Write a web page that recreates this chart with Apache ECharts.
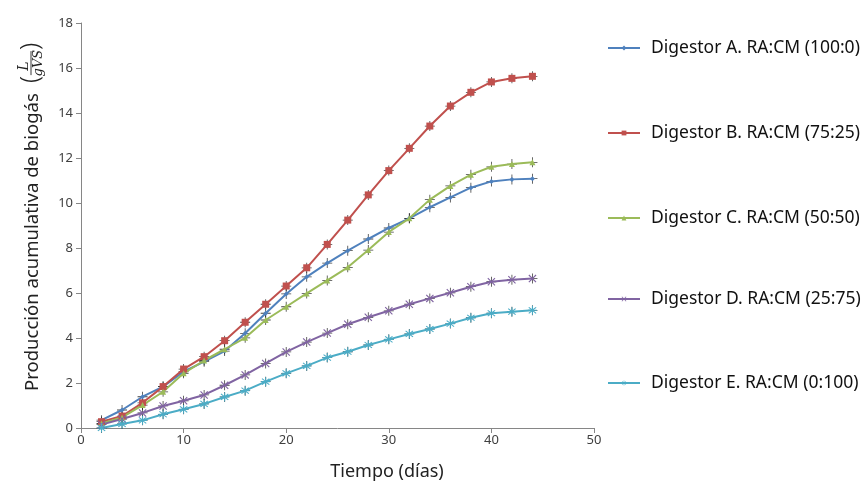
<!DOCTYPE html>
<html><head><meta charset="utf-8">
<script src="https://cdn.jsdelivr.net/npm/echarts@6/dist/echarts.min.js"></script>
<style>html,body{margin:0;padding:0;background:#fff}#c{width:862px;height:485px}</style>
</head><body><div id="c"></div>
<script>
const days = [2,4,6,8,10,12,14,16,18,20,22,24,26,28,30,32,34,36,38,40,42,44];
const seriesNames = ['Digestor A. RA:CM (100:0)','Digestor B. RA:CM (75:25)','Digestor C. RA:CM (50:50)','Digestor D. RA:CM (25:75)','Digestor E. RA:CM (0:100)'];
const digA = [0.35,0.8,1.39,1.84,2.5,2.95,3.42,4.21,5.1,5.96,6.72,7.33,7.88,8.4,8.89,9.32,9.81,10.25,10.68,10.96,11.05,11.08];
const digB = [0.28,0.53,1.12,1.84,2.62,3.17,3.88,4.7,5.5,6.31,7.12,8.16,9.24,10.36,11.44,12.43,13.42,14.31,14.92,15.38,15.54,15.63];
const digC = [0.2,0.47,1.02,1.61,2.43,3.0,3.5,4.01,4.8,5.39,5.98,6.56,7.14,7.91,8.71,9.32,10.15,10.76,11.26,11.61,11.73,11.81];
const digD = [0.15,0.4,0.67,0.98,1.21,1.47,1.9,2.36,2.87,3.38,3.82,4.22,4.61,4.92,5.21,5.5,5.76,6.01,6.28,6.5,6.59,6.64];
const digE = [0.0,0.18,0.34,0.61,0.83,1.07,1.38,1.66,2.06,2.43,2.76,3.13,3.39,3.69,3.94,4.18,4.4,4.64,4.9,5.1,5.17,5.23];
const allData = [digA,digB,digC,digD,digE];
const colors = ['#4F81BD','#C0504D','#9BBB59','#8064A2','#4BACC6'];
const symbols = ['diamond','rect','triangle',
  'path://M1,0L5,4L9,0L10,1L6,5L10,9L9,10L5,6L1,10L0,9L4,5L0,1Z',
  'path://M4.4,0h1.2v3.6L8.7,1.3l0.8,0.8L6.4,4.4H10v1.2H6.4l3.1,2.3l-0.8,0.8L5.6,6.4V10H4.4V6.4L1.3,8.7l-0.8-0.8L3.6,5.6H0V4.4h3.6L0.5,2.1l0.8-0.8L4.4,3.6z'];
const symSizes = [5,7,6,8,9];
const plusPath = 'path://M4.6,0h0.8v10h-0.8z M0,4.6h10v0.8h-10z';
const legendCenters = [48,133,218,299,383];
const yTitle = 'Producción acumulativa de biogás';

const series = [];
allData.forEach((d,i)=>{
  series.push({type:'scatter', data: days.map((x,k)=>[x,d[k]]), symbol: plusPath, symbolSize: 10,
    itemStyle:{color:'#111'}, z:1, silent:true, legendHoverLink:false, tooltip:{show:false}});
});
allData.forEach((d,i)=>{
  series.push({name: seriesNames[i], type:'line', data: days.map((x,k)=>[x,d[k]]),
    symbol: symbols[i], symbolSize: symSizes[i], showSymbol:true,
    lineStyle:{color:colors[i], width:2}, itemStyle:{color:colors[i]}, z:3});
});

const legends = seriesNames.map((n,i)=>({
  data:[n], orient:'vertical', left:607, top:legendCenters[i]-10, padding:0,
  itemWidth:32, itemHeight:6, selectedMode:false,
  textStyle:{fontSize:17.5, lineHeight:20, color:'#111', fontFamily:'Noto Sans', padding:[0,0,0,6]}
}));

// measure title text to fit reference length (~300px)
const mctx = document.createElement('canvas').getContext('2d');
mctx.font = '17px "Noto Sans"';
const w17 = mctx.measureText(yTitle).width || 290;
const tSize = Math.max(15, Math.min(19, 17 * 298 / w17));
mctx.font = tSize + 'px "Noto Sans"';
const tW = mctx.measureText(yTitle).width || 298;
const p0 = tW + 10;

const chart = echarts.init(document.getElementById('c'), null, {renderer:'canvas'});
chart.setOption({
  animation:false,
  backgroundColor:'#fff',
  textStyle:{fontFamily:'Noto Sans'},
  grid:{left:81, right:268, top:23, bottom:57},
  legend: legends,
  xAxis:{type:'value', min:0, max:50, interval:10,
    axisLine:{show:true, lineStyle:{color:'#868686'}},
    axisTick:{show:true, length:5, lineStyle:{color:'#868686'}},
    splitLine:{show:false},
    axisLabel:{color:'#404040', fontSize:13, margin:6}},
  yAxis:{type:'value', min:0, max:18, interval:2,
    axisLine:{show:true, lineStyle:{color:'#868686'}},
    axisTick:{show:true, length:5, lineStyle:{color:'#868686'}},
    splitLine:{show:false},
    axisLabel:{color:'#404040', fontSize:13, margin:8}},
  graphic:[
    {type:'text', x:387, y:472, style:{text:'Tiempo (días)', fontSize:18, fontFamily:'Noto Sans', fill:'#222', align:'center', verticalAlign:'middle'}},
    {
    type:'group', x:33, y:391, rotation:Math.PI/2,
    children:[
      {type:'text', x:0, y:0, style:{text:yTitle, fontSize:tSize, fontFamily:'Noto Sans', fill:'#222', align:'left', verticalAlign:'middle'}},
      {type:'text', x:p0, y:-2, style:{text:'(', fontSize:26, fontWeight:300, fontFamily:'Noto Sans', fill:'#222', align:'left', verticalAlign:'middle'}},
      {type:'text', x:p0+17, y:-9, style:{text:'L', fontSize:14, fontStyle:'italic', fontFamily:'DejaVu Serif', fill:'#222', align:'center', verticalAlign:'middle'}},
      {type:'line', shape:{x1:p0+8, y1:-2, x2:p0+32, y2:-2}, style:{stroke:'#222', lineWidth:0.9}},
      {type:'text', x:p0+20, y:6, style:{text:'gVS', fontSize:13, fontStyle:'italic', fontFamily:'DejaVu Serif', fill:'#222', align:'center', verticalAlign:'middle'}},
      {type:'text', x:p0+33, y:-2, style:{text:')', fontSize:26, fontWeight:300, fontFamily:'Noto Sans', fill:'#222', align:'left', verticalAlign:'middle'}}
    ]
  }],
  series: series
});
</script></body></html>
